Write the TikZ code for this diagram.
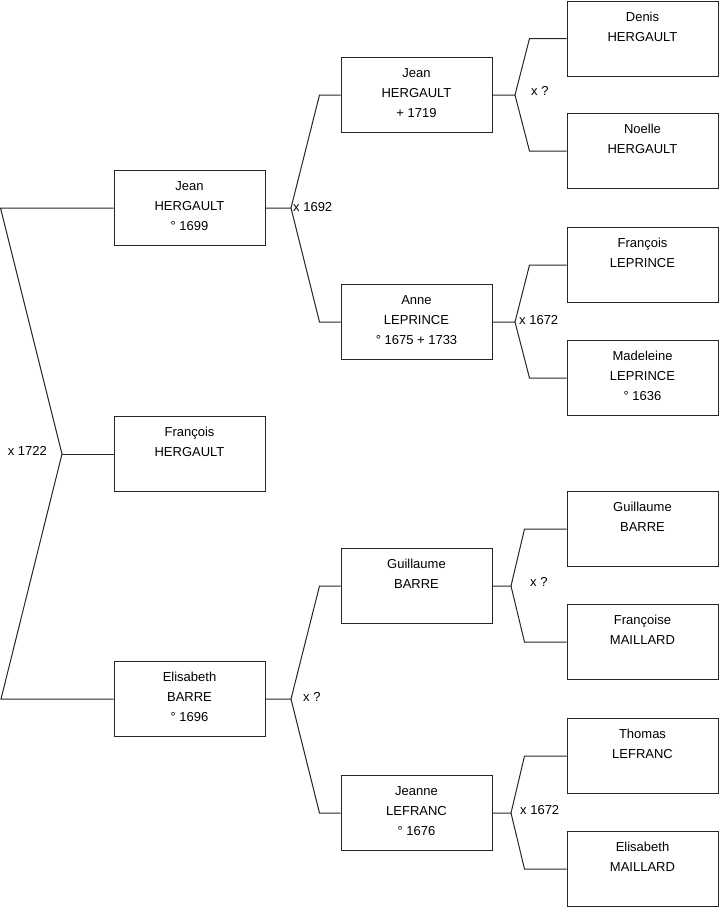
\documentclass[tikz,border=0pt]{standalone}
\usepackage{fontspec}
\setmainfont{Liberation Sans}
\usepackage{tikz}

\newcommand{\who}[3]{#1\\#2\\#3\\[-16pt]\mbox{}}

\begin{document}
\begin{tikzpicture}[
    x=1pt, y=-1pt,
    person/.style={draw=black!85, line width=1pt, minimum width=151pt,
                   minimum height=75pt, inner sep=0pt, align=center,
                   font=\fontsize{13}{20}\selectfont},
    lbl/.style={font=\fontsize{13}{15}\selectfont, anchor=west, inner sep=0pt},
    link/.style={draw=black!85, line width=1pt},
]
\useasboundingbox (0,0) rectangle (719,908);

% ── Column 1: child and parents ───────────────────────
\node[person] (jean1)  at (189.5,208) {\who{Jean}{HERGAULT}{° 1699}};
\node[person] (franc)  at (189.5,454) {\who{François}{HERGAULT}{\mbox{}}};
\node[person] (elis1)  at (189.5,699) {\who{Elisabeth}{BARRE}{° 1696}};

% ── Column 2: grandparents ────────────────────────────
\node[person] (jean2)  at (416.5,95)  {\who{Jean}{HERGAULT}{+ 1719}};
\node[person] (anne)   at (416.5,322) {\who{Anne}{LEPRINCE}{° 1675 + 1733}};
\node[person] (guil2)  at (416.5,586) {\who{Guillaume}{BARRE}{\mbox{}}};
\node[person] (jeanne) at (416.5,813) {\who{Jeanne}{LEFRANC}{° 1676}};

% ── Column 3: great-grandparents ──────────────────────
\node[person] (denis)  at (642.5,38.5) {\who{Denis}{HERGAULT}{\mbox{}}};
\node[person] (noelle) at (642.5,151)  {\who{Noelle}{HERGAULT}{\mbox{}}};
\node[person] (franc3) at (642.5,265)  {\who{François}{LEPRINCE}{\mbox{}}};
\node[person] (madel)  at (642.5,378)  {\who{Madeleine}{LEPRINCE}{° 1636}};
\node[person] (guil3)  at (642.5,529)  {\who{Guillaume}{BARRE}{\mbox{}}};
\node[person] (franc4) at (642.5,642)  {\who{Françoise}{MAILLARD}{\mbox{}}};
\node[person] (thomas) at (642.5,756)  {\who{Thomas}{LEFRANC}{\mbox{}}};
\node[person] (elis3)  at (642.5,869)  {\who{Elisabeth}{MAILLARD}{\mbox{}}};

% ── Fork points ───────────────────────────────────────
\coordinate (f0) at (62,454);
\coordinate (f1) at (291,208);
\coordinate (f2) at (291,699);
\coordinate (f3) at (515,95);
\coordinate (f4) at (515,322);
\coordinate (f5) at (511,586);
\coordinate (f6) at (511,813);

% ── Marriage labels ───────────────────────────────────
\node[lbl, anchor=east] (m0) at (47,451) {x 1722};
\node[lbl] (m1) at (293,207) {x 1692};
\node[lbl] (m2) at (303,697) {x ?};
\node[lbl] (m3) at (531,91)  {x ?};
\node[lbl] (m4) at (519,320) {x 1672};
\node[lbl] (m5) at (530,582) {x ?};
\node[lbl] (m6) at (520,810) {x 1672};

% ── Root fork (left) ──────────────────────────────────
\draw[link] (jean1.west) -- ++(-113,0) -- (f0) -- ++(-61,245) -- (elis1.west);
\draw[link] (f0) -- (franc.west);

% ── Column 1 → Column 2 ───────────────────────────────
\draw[link] (jean1.east) -- (f1) -- ([xshift=-21pt]jean2.west) -- (jean2.west);
\draw[link] (f1) -- ([xshift=-21pt]anne.west) -- (anne.west);
\draw[link] (elis1.east) -- (f2) -- ([xshift=-21pt]guil2.west) -- (guil2.west);
\draw[link] (f2) -- ([xshift=-21pt]jeanne.west) -- (jeanne.west);

% ── Column 2 → Column 3 ───────────────────────────────
\draw[link] (jean2.east) -- (f3) -- ([xshift=-37pt]denis.west) -- (denis.west);
\draw[link] (f3) -- ([xshift=-37pt]noelle.west) -- (noelle.west);
\draw[link] (anne.east) -- (f4) -- ([xshift=-37pt]franc3.west) -- (franc3.west);
\draw[link] (f4) -- ([xshift=-37pt]madel.west) -- (madel.west);
\draw[link] (guil2.east) -- (f5) -- ([xshift=-42pt]guil3.west) -- (guil3.west);
\draw[link] (f5) -- ([xshift=-42pt]franc4.west) -- (franc4.west);
\draw[link] (jeanne.east) -- (f6) -- ([xshift=-42pt]thomas.west) -- (thomas.west);
\draw[link] (f6) -- ([xshift=-42pt]elis3.west) -- (elis3.west);

\end{tikzpicture}
\end{document}
